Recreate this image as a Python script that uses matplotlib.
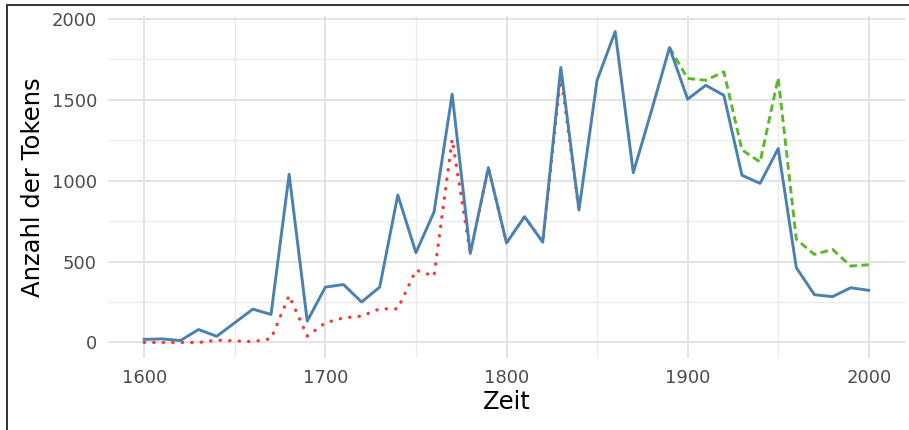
import matplotlib
matplotlib.use("Agg")
import matplotlib.pyplot as plt
from matplotlib.lines import Line2D
from matplotlib.ticker import MultipleLocator

# ---- data ----
years_blue = list(range(1600, 2001, 10))
blue = [19, 22, 12, 80, 38, 122, 206, 173, 1039, 132, 342, 358, 250, 342, 911,
        555, 806, 1534, 550, 1080, 615, 777, 620, 1699, 818, 1620, 1921, 1049,
        1430, 1822, 1503, 1589, 1527, 1033, 983, 1198, 462, 295, 283, 338, 322]

years_red = list(range(1600, 1841, 10))
red = [0, 0, 0, 0, 14, 10, 5, 23, 290, 39, 122, 152, 163, 208, 208,
       447, 410, 1255, 550, 1080, 615, 777, 620, 1650, 818]

years_green = list(range(1890, 2001, 10))
green = [1822, 1631, 1620, 1672, 1190, 1115, 1635, 637, 544, 575, 472, 480]

x_ticks = [1600, 1700, 1800, 1900, 2000]
y_ticks = [0, 500, 1000, 1500, 2000]

fig = plt.figure(figsize=(9.09, 4.30), dpi=100)
W, H = 909, 430
ax = fig.add_axes([108 / W, 1 - 358 / H, (905 - 108) / W, (358 - 16) / H])

ax.plot(years_red, red, color="#F8393C", lw=2.4,
        linestyle=(0, (0.1, 2.75)), dash_capstyle="round", zorder=3)
ax.plot(years_green, green, color="#5BB82F", lw=2.1,
        linestyle=(0, (2.6, 1.5)), zorder=3)
ax.plot(years_blue, blue, color="#4A81AF", lw=2.1, zorder=4)

ax.set_xlim(1580, 2020)
ax.set_ylim(-96, 2017)
ax.set_xticks(x_ticks)
ax.set_yticks(y_ticks)
ax.xaxis.set_minor_locator(MultipleLocator(50))
ax.yaxis.set_minor_locator(MultipleLocator(250))
ax.grid(which="major", color="#E3E3E3", lw=1.4)
ax.grid(which="minor", color="#EBEBEB", lw=1.0)
ax.set_axisbelow(True)
for s in ax.spines.values():
    s.set_visible(False)
ax.tick_params(which="both", length=0)
ax.tick_params(axis="both", labelsize=13, labelcolor="#4D4D4D")
ax.tick_params(axis="y", pad=8)
ax.tick_params(axis="x", pad=8)

ax.set_xlabel("Zeit", fontsize=17.5, color="black", labelpad=2)
ax.set_ylabel("Anzahl der Tokens", fontsize=17.5, color="black", labelpad=5)

# frame edges of the cropped picture
fig.add_artist(Line2D([7 / W, 1], [1 - 5 / H, 1 - 5 / H], color="#333333", lw=1.4,
                      transform=fig.transFigure))
fig.add_artist(Line2D([7 / W, 7 / W], [0, 1 - 5 / H], color="#333333", lw=1.4,
                      transform=fig.transFigure))

fig.savefig("out.png", dpi=100)
